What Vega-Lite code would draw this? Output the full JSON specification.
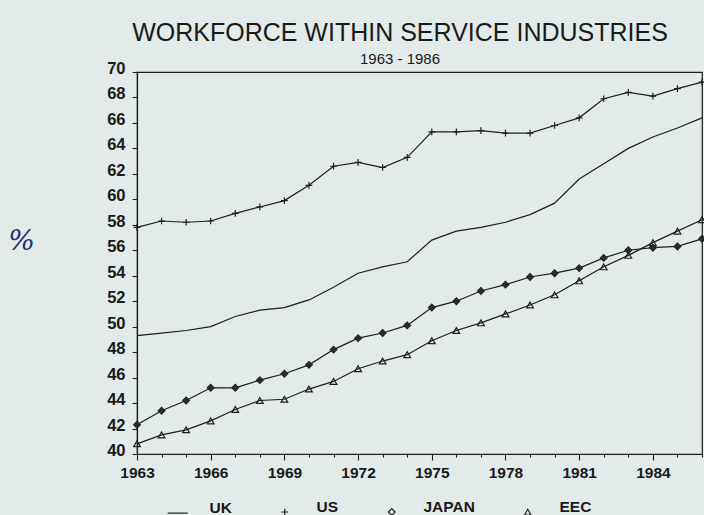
{
  "$schema": "https://vega.github.io/schema/vega-lite/v6.json",
  "autosize": {"type": "none"},
  "width": 565,
  "height": 382,
  "padding": {"left": 137, "top": 72, "right": 2, "bottom": 61},
  "background": "#e2eaea",
  "config": {"font": "Liberation Sans", "view": {"stroke": "#1e1e1e", "strokeWidth": 1.2}},
  "title": {
    "text": "WORKFORCE WITHIN SERVICE INDUSTRIES",
    "subtitle": "1963 - 1986",
    "font": "Liberation Sans", "fontSize": 25, "fontWeight": "normal", "color": "#1a1a1a",
    "subtitleFont": "Liberation Sans", "subtitleFontSize": 15, "subtitleColor": "#1a1a1a",
    "subtitlePadding": 6, "anchor": "middle", "dx": -19.5, "offset": -6
  },
  "data": {"values": [
    {"year":1963,"series":"UK","value":49.3},{"year":1963,"series":"US","value":57.8},{"year":1963,"series":"JAPAN","value":42.3},{"year":1963,"series":"EEC","value":40.8},
    {"year":1964,"series":"UK","value":49.5},{"year":1964,"series":"US","value":58.3},{"year":1964,"series":"JAPAN","value":43.4},{"year":1964,"series":"EEC","value":41.5},
    {"year":1965,"series":"UK","value":49.7},{"year":1965,"series":"US","value":58.2},{"year":1965,"series":"JAPAN","value":44.2},{"year":1965,"series":"EEC","value":41.9},
    {"year":1966,"series":"UK","value":50.0},{"year":1966,"series":"US","value":58.3},{"year":1966,"series":"JAPAN","value":45.2},{"year":1966,"series":"EEC","value":42.6},
    {"year":1967,"series":"UK","value":50.8},{"year":1967,"series":"US","value":58.9},{"year":1967,"series":"JAPAN","value":45.2},{"year":1967,"series":"EEC","value":43.5},
    {"year":1968,"series":"UK","value":51.3},{"year":1968,"series":"US","value":59.4},{"year":1968,"series":"JAPAN","value":45.8},{"year":1968,"series":"EEC","value":44.2},
    {"year":1969,"series":"UK","value":51.5},{"year":1969,"series":"US","value":59.9},{"year":1969,"series":"JAPAN","value":46.3},{"year":1969,"series":"EEC","value":44.3},
    {"year":1970,"series":"UK","value":52.1},{"year":1970,"series":"US","value":61.1},{"year":1970,"series":"JAPAN","value":47.0},{"year":1970,"series":"EEC","value":45.1},
    {"year":1971,"series":"UK","value":53.1},{"year":1971,"series":"US","value":62.6},{"year":1971,"series":"JAPAN","value":48.2},{"year":1971,"series":"EEC","value":45.7},
    {"year":1972,"series":"UK","value":54.2},{"year":1972,"series":"US","value":62.9},{"year":1972,"series":"JAPAN","value":49.1},{"year":1972,"series":"EEC","value":46.7},
    {"year":1973,"series":"UK","value":54.7},{"year":1973,"series":"US","value":62.5},{"year":1973,"series":"JAPAN","value":49.5},{"year":1973,"series":"EEC","value":47.3},
    {"year":1974,"series":"UK","value":55.1},{"year":1974,"series":"US","value":63.3},{"year":1974,"series":"JAPAN","value":50.1},{"year":1974,"series":"EEC","value":47.8},
    {"year":1975,"series":"UK","value":56.8},{"year":1975,"series":"US","value":65.3},{"year":1975,"series":"JAPAN","value":51.5},{"year":1975,"series":"EEC","value":48.9},
    {"year":1976,"series":"UK","value":57.5},{"year":1976,"series":"US","value":65.3},{"year":1976,"series":"JAPAN","value":52.0},{"year":1976,"series":"EEC","value":49.7},
    {"year":1977,"series":"UK","value":57.8},{"year":1977,"series":"US","value":65.4},{"year":1977,"series":"JAPAN","value":52.8},{"year":1977,"series":"EEC","value":50.3},
    {"year":1978,"series":"UK","value":58.2},{"year":1978,"series":"US","value":65.2},{"year":1978,"series":"JAPAN","value":53.3},{"year":1978,"series":"EEC","value":51.0},
    {"year":1979,"series":"UK","value":58.8},{"year":1979,"series":"US","value":65.2},{"year":1979,"series":"JAPAN","value":53.9},{"year":1979,"series":"EEC","value":51.7},
    {"year":1980,"series":"UK","value":59.7},{"year":1980,"series":"US","value":65.8},{"year":1980,"series":"JAPAN","value":54.2},{"year":1980,"series":"EEC","value":52.5},
    {"year":1981,"series":"UK","value":61.6},{"year":1981,"series":"US","value":66.4},{"year":1981,"series":"JAPAN","value":54.6},{"year":1981,"series":"EEC","value":53.6},
    {"year":1982,"series":"UK","value":62.8},{"year":1982,"series":"US","value":67.9},{"year":1982,"series":"JAPAN","value":55.4},{"year":1982,"series":"EEC","value":54.7},
    {"year":1983,"series":"UK","value":64.0},{"year":1983,"series":"US","value":68.4},{"year":1983,"series":"JAPAN","value":56.0},{"year":1983,"series":"EEC","value":55.6},
    {"year":1984,"series":"UK","value":64.9},{"year":1984,"series":"US","value":68.1},{"year":1984,"series":"JAPAN","value":56.2},{"year":1984,"series":"EEC","value":56.6},
    {"year":1985,"series":"UK","value":65.6},{"year":1985,"series":"US","value":68.7},{"year":1985,"series":"JAPAN","value":56.3},{"year":1985,"series":"EEC","value":57.5},
    {"year":1986,"series":"UK","value":66.4},{"year":1986,"series":"US","value":69.2},{"year":1986,"series":"JAPAN","value":56.9},{"year":1986,"series":"EEC","value":58.4}
  ]},
  "encoding": {
    "x": {
      "field": "year", "type": "quantitative",
      "scale": {"domain": [1963, 1986], "nice": false, "zero": false},
      "axis": {
        "title": null, "grid": false,
        "values": [1963,1964,1965,1966,1967,1968,1969,1970,1971,1972,1973,1974,1975,1976,1977,1978,1979,1980,1981,1982,1983,1984,1985,1986],
        "labelExpr": "datum.value % 3 == 1 && datum.value < 1986 ? format(datum.value, 'd') : ''",
        "tickSize": {"condition": {"test": "datum.value % 3 == 1", "value": 6}, "value": 3},
        "labelPadding": 5,
        "labelFont": "Liberation Sans", "labelFontSize": 15.5, "labelFontWeight": "bold", "labelColor": "#1a1a1a",
        "domainColor": "#1e1e1e", "domainWidth": 1.2, "tickColor": "#1e1e1e", "tickWidth": 1.1,
        "labelOverlap": false, "labelFlush": false
      }
    },
    "y": {
      "field": "value", "type": "quantitative",
      "scale": {"domain": [40, 70], "nice": false, "zero": false},
      "axis": {
        "values": [40,42,44,46,48,50,52,54,56,58,60,62,64,66,68,70],
        "grid": false, "tickSize": 5, "labelPadding": 7, "labelOffset": -3.5,
        "labelFont": "Liberation Sans", "labelFontSize": 16.5, "labelFontWeight": "bold", "labelColor": "#1a1a1a",
        "domainColor": "#1e1e1e", "domainWidth": 1.2, "tickColor": "#1e1e1e", "tickWidth": 1.1,
        "labelOverlap": false, "labelFlush": false,
        "title": "%", "titleAngle": 0, "titleX": -116, "titleY": 169, "titleAlign": "center", "titleBaseline": "middle",
        "titleFont": "DejaVu Serif", "titleFontStyle": "italic", "titleFontWeight": "normal", "titleFontSize": 28, "titleColor": "#2a2d6b"
      }
    }
  },
  "layer": [
    {
      "mark": {"type": "line", "color": "#1e1e1e", "strokeWidth": 1.2},
      "encoding": {"detail": {"field": "series", "type": "nominal"}}
    },
    {
      "transform": [{"filter": "datum.series != 'UK'"}],
      "mark": {"type": "point", "filled": false, "size": 45, "color": "#1e1e1e", "strokeWidth": 1.2, "opacity": 1},
      "encoding": {
        "shape": {
          "field": "series", "type": "nominal",
          "scale": {"domain": ["UK", "US", "JAPAN", "EEC"], "range": ["M-3,0H3", "M-1,0H1M0,-1V1", "diamond", "triangle-up"]},
          "legend": {
            "title": null, "orient": "none", "direction": "horizontal", "legendX": 33, "legendY": 432,
            "columnPadding": 45, "labelOffset": 24, "labelBaseline": "alphabetic", "symbolSize": 45,
            "labelFont": "Liberation Sans", "labelFontSize": 15.5, "labelFontWeight": "bold", "labelColor": "#1a1a1a",
            "symbolStrokeColor": "#1e1e1e", "symbolStrokeWidth": 1.2, "symbolFillColor": "transparent", "symbolOpacity": 1
          }
        }
      }
    },
    {
      "transform": [{"filter": "datum.series == 'JAPAN'"}],
      "mark": {"type": "point", "shape": "diamond", "filled": true, "size": 40, "color": "#2a2a2a", "opacity": 1}
    }
  ]
}
